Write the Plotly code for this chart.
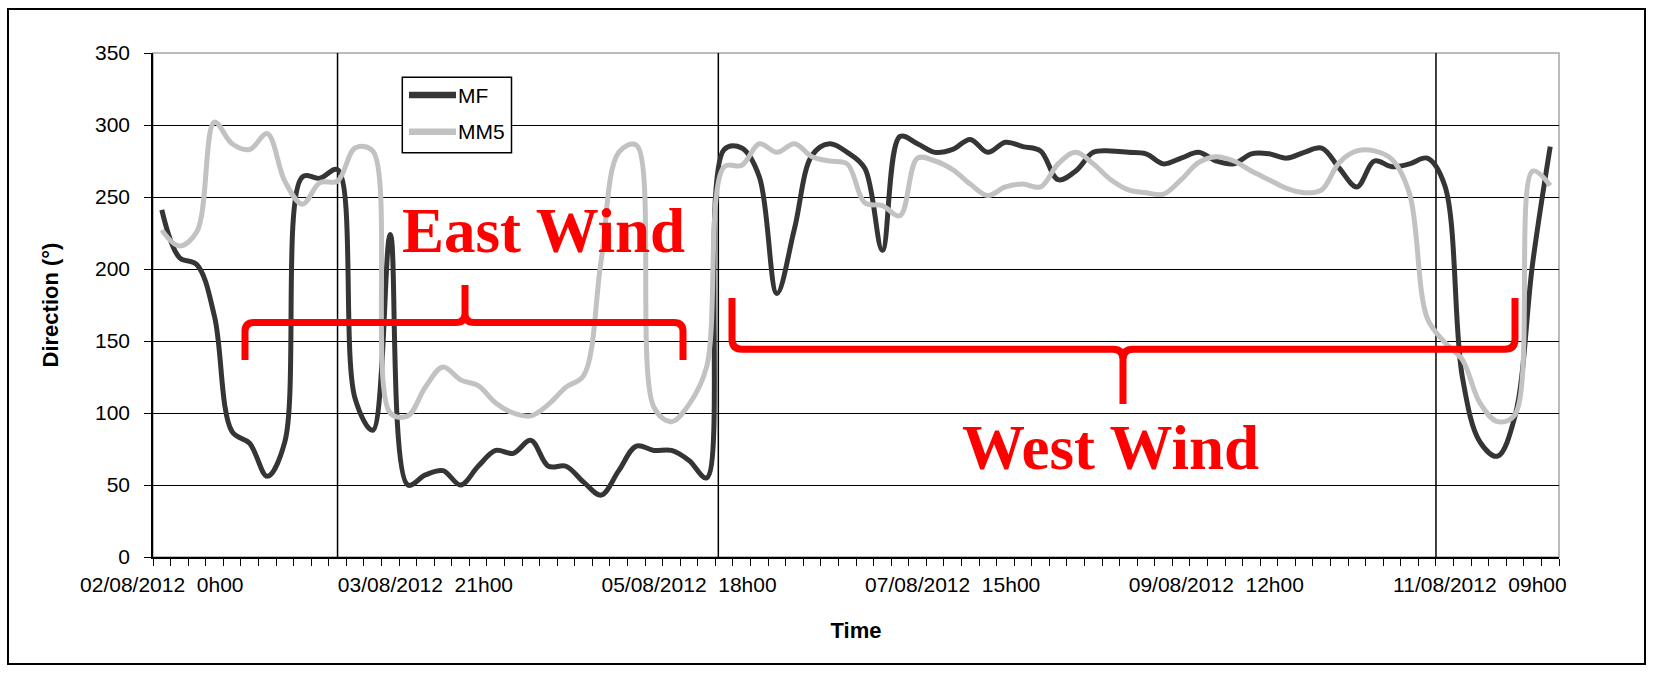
import plotly.graph_objects as go
import pandas as pd

# ---------------- data ----------------
start = pd.Timestamp("2012-08-02 00:00")
step_hours = 3

series_names = ["MF", "MM5"]

mf = [241, 208, 203, 167, 87, 79, 56, 80, 264, 263,
      269, 110, 88, 224, 50, 57, 60, 50, 63, 74,
      72, 81, 63, 63, 52, 43, 60, 77, 74, 74,
      67, 55, 283, 284, 264, 183, 228, 279, 287, 281,
      270, 213, 292, 287, 281, 283, 290, 281, 288, 285,
      282, 262, 268, 281, 282, 281, 280, 273, 277, 281,
      275, 273, 280, 280, 277, 281, 284, 270, 257, 275,
      271, 273, 277, 258, 125, 80, 70, 98, 204, 285]

mm5 = [227, 216, 226, 302, 287, 283, 294, 261, 245, 260,
       261, 284, 282, 100, 98, 118, 132, 123, 119, 107,
       100, 98, 106, 118, 126, 206, 281, 286, 104, 94,
       106, 132, 271, 272, 287, 281, 287, 278, 275, 273,
       246, 244, 237, 277, 275, 269, 259, 251, 257, 259,
       257, 273, 281, 273, 262, 255, 253, 252, 262, 274,
       278, 275, 268, 262, 256, 253, 255, 274, 282, 282,
       276, 252, 166, 149, 137, 107, 94, 99, 268, 258]

times = [start + pd.Timedelta(hours=step_hours * i) for i in range(len(mf))]

tick_hours = [0, 45, 90, 135, 180, 225]
tick_labels = ["02/08/2012\u00a0 0h00", "03/08/2012\u00a0 21h00", "05/08/2012\u00a0 18h00",
               "07/08/2012\u00a0 15h00", "09/08/2012\u00a0 12h00", "11/08/2012\u00a0 09h00"]
y_ticks = [0, 50, 100, 150, 200, 250, 300, 350]

regime_bounds_hours = [30, 95, 217.5]

colors = ["#353535", "#c2c2c2"]

# ---------------- geometry helpers ----------------
PL, PT, PR, PB = 153, 53, 1559, 557
W, H = 1657, 675


def px(x):
    return (x - PL) / (PR - PL)


def py(y):
    return (PB - y) / (PB - PT)


def P(x, y):
    return f"{px(x):.5f},{py(y):.5f}"


def hours(h):
    return start + pd.Timedelta(hours=h)


fig = go.Figure()
for name, vals, col in zip(series_names, [mf, mm5], colors):
    fig.add_trace(go.Scatter(x=times, y=vals, name=name, mode="lines", showlegend=False,
                             line=dict(color=col, width=5, shape="spline", smoothing=1)))

shapes = []
# outer chart frame
shapes.append(dict(type="rect", xref="paper", yref="paper",
                   x0=px(8), x1=px(1645), y0=py(664), y1=py(9),
                   line=dict(color="black", width=2), layer="above"))
# plot area border (grey)
shapes.append(dict(type="rect", xref="paper", yref="paper", x0=0, x1=1, y0=0, y1=1,
                   line=dict(color="#a6a6a6", width=1.5), layer="between"))
# regime boundary lines
for h in regime_bounds_hours:
    shapes.append(dict(type="line", xref="x", yref="paper", x0=hours(h), x1=hours(h),
                       y0=0, y1=1, line=dict(color="black", width=1.5), layer="between"))


def brace_down(x0, x1, xm, yh, yend, ytip, r):
    return ("M " + P(x0, yend) + " L " + P(x0, yh + r) + " Q " + P(x0, yh) + " " + P(x0 + r, yh) +
            " L " + P(xm - r, yh) + " Q " + P(xm, yh) + " " + P(xm, yh - r) + " L " + P(xm, ytip) +
            " L " + P(xm, yh - r) + " Q " + P(xm, yh) + " " + P(xm + r, yh) +
            " L " + P(x1 - r, yh) + " Q " + P(x1, yh) + " " + P(x1, yh + r) + " L " + P(x1, yend))


def brace_up(x0, x1, xm, yh, yend, ytip, r):
    return ("M " + P(x0, yend) + " L " + P(x0, yh - r) + " Q " + P(x0, yh) + " " + P(x0 + r, yh) +
            " L " + P(xm - r, yh) + " Q " + P(xm, yh) + " " + P(xm, yh + r) + " L " + P(xm, ytip) +
            " L " + P(xm, yh + r) + " Q " + P(xm, yh) + " " + P(xm + r, yh) +
            " L " + P(x1 - r, yh) + " Q " + P(x1, yh) + " " + P(x1, yh - r) + " L " + P(x1, yend))


shapes.append(dict(type="path", xref="paper", yref="paper",
                   path=brace_down(245, 683, 465, 322.5, 360, 285, 9),
                   line=dict(color="#ff0000", width=7), layer="above"))
shapes.append(dict(type="path", xref="paper", yref="paper",
                   path=brace_up(732, 1515, 1123, 349.3, 298, 404, 10),
                   line=dict(color="#ff0000", width=7), layer="above"))

# legend (drawn manually to match the original box)
shapes.append(dict(type="rect", xref="paper", yref="paper",
                   x0=px(402.3), x1=px(511.5), y0=py(152.7), y1=py(77.3),
                   fillcolor="white", line=dict(color="black", width=1.5), layer="above"))
legend_rows_y = [95, 131.7]
annotations = []
for name, col, ly in zip(series_names, colors, legend_rows_y):
    shapes.append(dict(type="line", xref="paper", yref="paper",
                       x0=px(409), x1=px(456), y0=py(ly), y1=py(ly),
                       line=dict(color=col, width=6.5), layer="above"))
    annotations.append(dict(text=name, xref="paper", yref="paper", x=px(456), y=py(ly),
                            xanchor="left", yanchor="middle", showarrow=False,
                            font=dict(size=21, color="black")))

annotations += [
    dict(text="<b>East Wind</b>", xref="paper", yref="paper", x=px(543.4), y=py(231.5),
         xanchor="center", yanchor="middle", showarrow=False,
         font=dict(family="Liberation Serif, Times New Roman, serif", size=63, color="#ff0000")),
    dict(text="<b>West Wind</b>", xref="paper", yref="paper", x=px(1110.8), y=py(448),
         xanchor="center", yanchor="middle", showarrow=False,
         font=dict(family="Liberation Serif, Times New Roman, serif", size=63, color="#ff0000")),
]

font_family = "Liberation Sans, Arial, sans-serif"

fig.update_layout(
    width=W, height=H,
    margin=dict(l=PL, r=W - PR, t=PT, b=H - PB, autoexpand=False),
    paper_bgcolor="white", plot_bgcolor="white",
    font=dict(family=font_family, size=21, color="black"),
    showlegend=False,
    shapes=shapes,
    annotations=annotations,
    xaxis=dict(
        type="date",
        range=[hours(-1.5), hours(238.5)],
        tickmode="array",
        tickvals=[hours(h) for h in tick_hours],
        ticktext=tick_labels,
        ticks="",
        showgrid=False,
        zeroline=False,
        showline=True, linecolor="black", linewidth=1.5,
        tickfont=dict(size=21, color="black"),
        ticklabelstandoff=8,
        minor=dict(ticks="outside", ticklen=7, tickwidth=1.3, tickcolor="black",
                   dtick=step_hours * 3600 * 1000, tick0=hours(-1.5), showgrid=False),
        title=dict(text="Time", font=dict(size=22, weight="bold", color="black"), standoff=28),
    ),
    yaxis=dict(
        range=[0, 350],
        tickmode="array",
        tickvals=y_ticks,
        ticks="outside", ticklen=7, tickwidth=1.3, tickcolor="black",
        showgrid=True, gridcolor="black", gridwidth=1.2,
        zeroline=False,
        showline=True, linecolor="black", linewidth=1.5,
        tickfont=dict(size=21, color="black"),
        ticklabelstandoff=10,
        title=dict(text="Direction (°)", font=dict(size=22, weight="bold", color="black"), standoff=30),
    ),
)

fig.write_html("out.html")
